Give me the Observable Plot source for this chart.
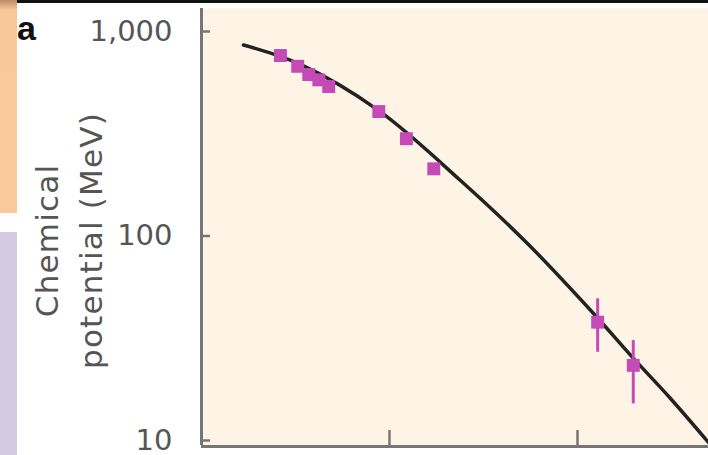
<!DOCTYPE html>
<html>
<head>
<meta charset="utf-8">
<script src="https://cdn.jsdelivr.net/npm/d3@7"></script>
<script src="https://cdn.jsdelivr.net/npm/@observablehq/plot@0.6"></script>
<style>
  html, body { margin: 0; padding: 0; background: #ffffff; }
  #wrap { position: relative; width: 708px; height: 455px; overflow: hidden; font-family: "Liberation Sans", Arial, sans-serif; }
  #topbar { position: absolute; left: 17px; top: 0; width: 691px; height: 3px; background: #111; }
  #orange { position: absolute; left: 0; top: 0; width: 17px; height: 213px; background: linear-gradient(#b98a66 0px, #f8c89b 10px, #f9c99c 100%); }
  #lavender { position: absolute; left: 0; top: 232px; width: 17px; height: 223px; background: #d5cbe0; }
  #panel { position: absolute; left: 17px; top: 11px; font-size: 34px; font-weight: bold; color: #111; line-height: 1; }
  #chart { position: absolute; left: 0; top: 0; }
</style>
</head>
<body>
<div id="wrap">
  <div id="chart"></div>
  <div id="topbar"></div>
  <div id="orange"></div>
  <div id="lavender"></div>
  <div id="panel">a</div>
</div>
<script>
// Collision energy (GeV, log axis) and chemical potential (MeV, log axis)
const pointEnergy = [2.63, 3.25, 3.72, 4.21, 4.75, 8.77, 12.3, 17.2, 128, 198];
const pointMu     = [763, 676, 616, 580, 538, 406, 299, 213, 37.9, 23.3];

const errEnergy = [128, 198];
const errLow    = [27.0, 15.1];
const errHigh   = [49.3, 30.8];

const curveEnergy = [1.672, 3.36, 8.77, 23.86, 54.2, 121.7, 198.6, 312.4, 497.6];
const curveMu     = [859, 690, 410, 186.8, 91.9, 41.8, 25.2, 16.05, 9.78];

const yTicks = [10, 100, 1000];
const xTicks = [10, 100];
const yLabel = "Chemical\npotential (MeV)";

const xDomain = [1, 497.6];
const yDomain = [9.347, 1295.6];

const points = pointEnergy.map((e, i) => ({e, mu: pointMu[i]}));
const errs = errEnergy.map((e, i) => ({e, lo: errLow[i], hi: errHigh[i]}));
const curve = curveEnergy.map((e, i) => ({e, mu: curveMu[i]}));

const W = 708, H = 455;
const mL = 201, mR = 0, mT = 8, mB = 9;
const frameW = W - mL - mR, frameH = H - mT - mB;

const magenta = "#c44bb5";
const axisGray = "#767676";

const chart = Plot.plot({
  width: W,
  height: H,
  marginLeft: mL,
  marginRight: mR,
  marginTop: mT,
  marginBottom: mB,
  style: {fontFamily: "DejaVu Sans, sans-serif", fontSize: "29px", color: "#555", background: "transparent", overflow: "visible"},
  x: {type: "log", domain: xDomain, axis: null},
  y: {type: "log", domain: yDomain, axis: null},
  marks: [
    Plot.frame({fill: "#fdf4e6", stroke: null}),
    Plot.axisY({ticks: yTicks, tickSize: 0, tickPadding: 29, tickFormat: ",", label: null, fontSize: 29}),
    Plot.tickY(yTicks, {y: d => d, stroke: axisGray, strokeWidth: 2.5, insetRight: frameW - 9}),
    Plot.tickX(xTicks, {x: d => d, stroke: axisGray, strokeWidth: 2.5, insetTop: frameH - 16}),
    Plot.text([yLabel], {frameAnchor: "left", textAnchor: "middle", rotate: -90, dx: -136, dy: 13, fontSize: 31, lineHeight: 1.42, fill: "#555"}),
    Plot.line(curve, {x: "e", y: "mu", stroke: "#222", strokeWidth: 3.5, curve: "catmull-rom"}),
    Plot.ruleX(errs, {x: "e", y1: "lo", y2: "hi", stroke: magenta, strokeWidth: 3}),
    Plot.dot(points, {x: "e", y: "mu", symbol: "square", r: 7.3, fill: magenta, stroke: null}),
    Plot.ruleX([xDomain[0]], {stroke: axisGray, strokeWidth: 3, y1: yDomain[0], y2: yDomain[1], insetTop: -1}),
    Plot.ruleY([yDomain[0]], {stroke: axisGray, strokeWidth: 3})
  ]
});
d3.select(chart).selectAll('g[aria-label="text"] text').style("letter-spacing", "1.2px");
document.getElementById("chart").appendChild(chart);
</script>
</body>
</html>
